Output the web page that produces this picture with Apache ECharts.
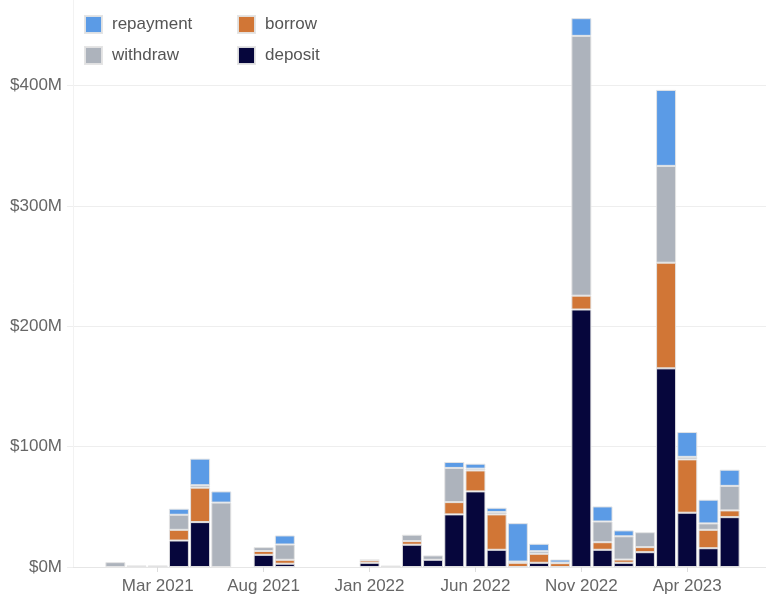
<!DOCTYPE html>
<html>
<head>
<meta charset="utf-8">
<title>Monthly volume by action</title>
<script src="https://cdn.jsdelivr.net/npm/echarts@6/dist/echarts.min.js"></script>
<style>
  html, body { margin: 0; padding: 0; background: #ffffff; }
  #chart { width: 766px; height: 597px; }
</style>
</head>
<body>
<div id="chart"></div>
<script>
// Months with data, one bar per month (Jan 2021 .. Jun 2023)
const months = [
  'Jan 2021', 'Feb 2021', 'Mar 2021', 'Apr 2021', 'May 2021', 'Jun 2021',
  'Jul 2021', 'Aug 2021', 'Sep 2021', 'Oct 2021', 'Nov 2021', 'Dec 2021',
  'Jan 2022', 'Feb 2022', 'Mar 2022', 'Apr 2022', 'May 2022', 'Jun 2022',
  'Jul 2022', 'Aug 2022', 'Sep 2022', 'Oct 2022', 'Nov 2022', 'Dec 2022',
  'Jan 2023', 'Feb 2023', 'Mar 2023', 'Apr 2023', 'May 2023', 'Jun 2023'
];
// Empty months padding the time range on either side
const leadMonths = ['Nov 2020', 'Dec 2020'];
const trailMonths = ['Jul 2023', 'Aug 2023'];

// Monthly volume per action, in $M
const deposit = [
  0, 0, 0, 22.0, 37.3, 0,
  0, 10.1, 2.7, 0, 0, 0,
  3.5, 0, 18.5, 6.0, 43.7, 62.8,
  14.3, 0, 3.5, 0, 213.9, 14.3,
  3.5, 12.3, 165.0, 45.1, 15.6, 41.4
];
const borrow = [
  0, 0, 0, 8.9, 28.6, 0,
  0, 3.2, 3.3, 0, 0, 0,
  2.0, 0, 3.0, 0, 10.2, 17.4,
  29.4, 3.5, 7.5, 3.2, 11.5, 6.3,
  2.7, 4.2, 87.8, 44.3, 15.3, 5.6
];
const withdraw = [
  4.0, 1.3, 1.3, 12.5, 2.0, 53.5,
  0, 3.2, 12.7, 0, 0, 0,
  0.5, 1.2, 5.3, 3.6, 28.4, 1.5,
  1.9, 1.0, 2.1, 0.5, 215.8, 17.2,
  19.3, 12.4, 80.4, 2.1, 5.3, 20.4
];
const repayment = [
  0, 0, 0, 5.0, 22.1, 9.3,
  0, 0, 7.5, 0, 0, 0,
  0, 0, 0, 0, 4.9, 4.1,
  3.6, 31.9, 6.2, 2.5, 14.7, 12.5,
  4.9, 0, 63.1, 20.6, 19.7, 13.4
];

// Labelled months on the x axis
const tickMonths = ['Mar 2021', 'Aug 2021', 'Jan 2022', 'Jun 2022', 'Nov 2022', 'Apr 2023'];
// Y axis ticks, in $M
const yTicks = [0, 100, 200, 300, 400];

const colors = {
  repayment: '#5b9be6',
  borrow: '#d17636',
  withdraw: '#adb3bc',
  deposit: '#06063c'
};

const fontFamily = '"Liberation Sans", Arial, Helvetica, sans-serif';
const axisMonths = leadMonths.concat(months, trailMonths);

// Pad a series to the full axis range; empty months draw nothing
function toAxisData(values) {
  const pad = n => new Array(n).fill(null);
  return pad(leadMonths.length)
    .concat(values.map(v => (v === 0 ? null : v)))
    .concat(pad(trailMonths.length));
}

function barSeries(name, values) {
  return {
    name: name,
    type: 'bar',
    stack: 'total',
    barWidth: 20,
    itemStyle: {
      color: colors[name],
      borderColor: 'rgba(228,228,228,0.95)',
      borderWidth: 1
    },
    emphasis: { disabled: true },
    data: toAxisData(values)
  };
}

function legendItem(name, left, top) {
  return {
    data: [name],
    left: left,
    top: top,
    padding: 0,
    icon: 'rect',
    itemWidth: 17,
    itemHeight: 17,
    selectedMode: false,
    textStyle: {
      fontFamily: fontFamily,
      fontSize: 17,
      color: '#555555',
      padding: [0, 0, 0, 5]
    }
  };
}

const showMonth = (index, value) => tickMonths.indexOf(value) >= 0;

const chart = echarts.init(document.getElementById('chart'), null, { renderer: 'canvas' });

chart.setOption({
  animation: false,
  backgroundColor: '#ffffff',
  legend: [
    legendItem('repayment', 84, 15),
    legendItem('borrow', 237, 15),
    legendItem('withdraw', 84, 46),
    legendItem('deposit', 237, 46)
  ],
  // the plot runs a little past the right edge of the canvas
  grid: { left: 73, width: 699, top: 0, bottom: 30, outerBoundsMode: 'none', containLabel: false },
  xAxis: {
    type: 'category',
    data: axisMonths,
    boundaryGap: false,
    splitLine: { show: false },
    axisLine: { show: true, lineStyle: { color: '#e6e6e6' } },
    axisTick: {
      show: true,
      length: 5,
      interval: showMonth,
      lineStyle: { color: '#dddddd' }
    },
    axisLabel: {
      interval: showMonth,
      fontFamily: fontFamily,
      fontSize: 17,
      color: '#666666',
      margin: 11
    }
  },
  yAxis: {
    type: 'value',
    min: 0,
    max: 471,
    axisLine: { show: true, lineStyle: { color: '#f2f2f2' } },
    axisTick: {
      show: true,
      length: 6,
      customValues: yTicks,
      lineStyle: { color: '#eeeeee' }
    },
    splitLine: { show: true, lineStyle: { color: '#eeeeee' } },
    axisLabel: {
      customValues: yTicks,
      formatter: v => '$' + v + 'M',
      fontFamily: fontFamily,
      fontSize: 17,
      color: '#666666',
      margin: 11
    }
  },
  series: [
    barSeries('deposit', deposit),
    barSeries('borrow', borrow),
    barSeries('withdraw', withdraw),
    barSeries('repayment', repayment)
  ]
});
</script>
</body>
</html>
